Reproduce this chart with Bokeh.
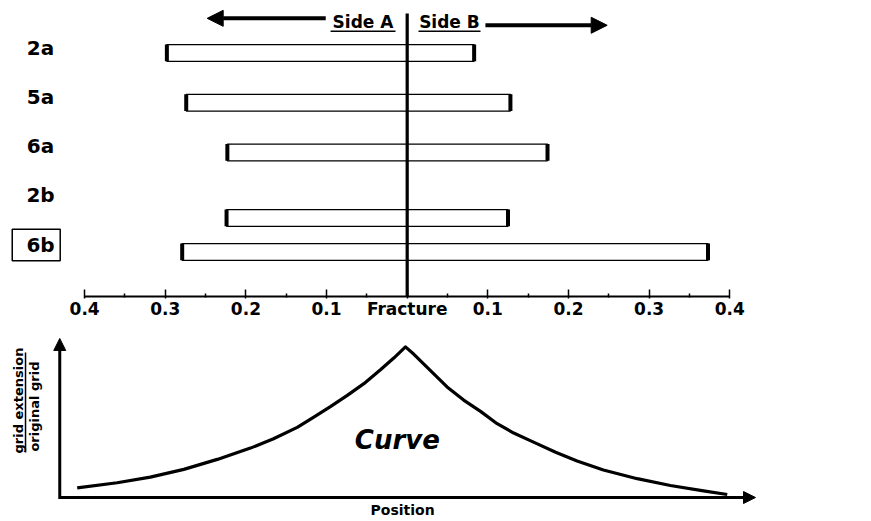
import math
from bokeh.plotting import figure
from bokeh.layouts import column
from bokeh.models import (Range1d, LinearAxis, FixedTicker, CustomJSTickFormatter,
                          Arrow, NormalHead, ColumnDataSource)
from bokeh.core.properties import value
from bokeh.embed import file_html
from bokeh.resources import INLINE

# ---------------- data ----------------
samples = ["2a", "5a", "6a", "2b", "6b"]
side_a = [0.298, 0.274, 0.223, 0.224, 0.279]   # extent into side A (fraction)
side_b = [0.083, 0.128, 0.174, 0.125, 0.373]   # extent into side B (fraction)
tick_values = [-0.4, -0.3, -0.2, -0.1, 0.0, 0.1, 0.2, 0.3, 0.4]
tick_labels = ["0.4", "0.3", "0.2", "0.1", "Fracture", "0.1", "0.2", "0.3", "0.4"]

position = [-1.010, -0.887, -0.785, -0.682, -0.579, -0.477, -0.406, -0.333, -0.282, -0.231,
            -0.179, -0.128, -0.077, -0.036, 0.0,
            0.026, 0.077, 0.128, 0.179, 0.231, 0.282, 0.333, 0.394, 0.462, 0.528,
            0.609, 0.713, 0.815, 0.917, 0.990]
extension_ratio = [0.064, 0.098, 0.135, 0.187, 0.253, 0.328, 0.390, 0.466, 0.534, 0.603,
                   0.678, 0.756, 0.848, 0.926, 1.0,
                   0.951, 0.842, 0.734, 0.647, 0.572, 0.490, 0.428, 0.368, 0.300, 0.243,
                   0.183, 0.125, 0.080, 0.044, 0.020]

# ---------------- layout helpers ----------------
FONT_NAME = "DejaVu Sans"
FONT = value(FONT_NAME)
label_row = [0, 1, 2, 3, 4]
bar_shift = [0.11, 0.12, 0.13, 0.46, 0.15]
bar_h = 0.34
minor_ticks = [-0.35, -0.25, -0.15, -0.05, 0.05, 0.15, 0.25, 0.35]

# ---------------- top panel ----------------
p1 = figure(width=855, height=321, x_range=Range1d(-0.5043, 0.5559),
            y_range=Range1d(5.055, -0.955), output_backend="svg", toolbar_location=None,
            x_axis_location=None, y_axis_location=None, title=None,
            min_border_left=0, min_border_right=0, min_border_top=0, min_border_bottom=22,
            outline_line_color=None, background_fill_color="white", border_fill_color="white")
p1.grid.visible = False

fmt = CustomJSTickFormatter(args=dict(vals=tick_values, labs=tick_labels), code="""
let best = 0;
for (let i = 0; i < vals.length; i++) {
  if (Math.abs(vals[i] - tick) < Math.abs(vals[best] - tick)) best = i;
}
return labs[best];
""")
ax = LinearAxis(bounds=(-0.4, 0.4), ticker=FixedTicker(ticks=tick_values, minor_ticks=minor_ticks),
                formatter=fmt, axis_line_width=2, axis_line_color="black",
                major_tick_in=7, major_tick_out=2, major_tick_line_width=1.5,
                minor_tick_in=3, minor_tick_out=1, minor_tick_line_width=1.5,
                major_label_text_font=FONT_NAME, major_label_text_font_style="bold",
                major_label_text_font_size="17px", major_label_standoff=0,
                major_label_text_color="black")
p1.add_layout(ax, "below")

ys = [r + s for r, s in zip(label_row, bar_shift)]
src = ColumnDataSource(dict(
    name=samples, row=label_row, y=ys,
    left=[-a for a in side_a], right=side_b,
    y0=[y - bar_h / 2 for y in ys], y1=[y + bar_h / 2 for y in ys]))

p1.hbar(y="y", left="left", right="right", height=bar_h, fill_color=None,
        line_color="black", line_width=1.3, source=src)
p1.segment(x0="left", y0="y0", x1="left", y1="y1", line_width=4, line_color="black", source=src)
p1.segment(x0="right", y0="y0", x1="right", y1="y1", line_width=4, line_color="black", source=src)

# fracture line
p1.segment(x0=[0], y0=[-0.693], x1=[0], y1=[5.055], line_width=3.2, line_color="black")

# row labels
p1.text(x=-0.4547, y="row", text="name", source=src, text_font=FONT, text_font_style="bold",
        text_font_size="20px", text_align="center", text_baseline="middle", text_color="black")
p1.rect(x=[-0.46], y=[4.01], width=[0.0595], height=[0.643], fill_color=None,
        line_color="black", line_width=1.5)

# side headers
p1.text(x=[-0.0548, 0.0524], y=[-0.513, -0.513], text=["Side A", "Side B"], text_font=FONT,
        text_font_style="bold", text_font_size="17px", text_align="center",
        text_baseline="middle", text_color="black")
p1.segment(x0=[-0.095, 0.014], y0=[-0.332, -0.332], x1=[-0.0145, 0.0909], y1=[-0.332, -0.332],
           line_width=1.5, line_color="black")
p1.add_layout(Arrow(end=NormalHead(size=16, fill_color="black", line_color="black"),
                    x_start=-0.101, y_start=-0.593, x_end=-0.248, y_end=-0.593,
                    line_width=4, line_color="black"))
p1.add_layout(Arrow(end=NormalHead(size=16, fill_color="black", line_color="black"),
                    x_start=0.097, y_start=-0.452, x_end=0.248, y_end=-0.452,
                    line_width=4, line_color="black"))

# ---------------- bottom panel ----------------
p2 = figure(width=855, height=197, x_range=Range1d(-1.246, 1.3846),
            y_range=Range1d(-0.1394, 1.1687), output_backend="svg", toolbar_location=None,
            x_axis_location=None, y_axis_location=None, title=None,
            min_border_left=0, min_border_right=0, min_border_top=0, min_border_bottom=0,
            outline_line_color=None, background_fill_color="white", border_fill_color="white")
p2.grid.visible = False

p2.line(position, extension_ratio, line_width=3.2, line_color="black", line_join="round")

p2.add_layout(Arrow(end=NormalHead(size=12, fill_color="black", line_color="black"),
                    x_start=-1.0637, y_start=-0.01, x_end=-1.0637, y_end=1.056,
                    line_width=3, line_color="black"))
p2.add_layout(Arrow(end=NormalHead(size=12, fill_color="black", line_color="black"),
                    x_start=-1.0637, y_start=0.0, x_end=1.077, y_end=0.0,
                    line_width=3.2, line_color="black"))

p2.text(x=[-0.025], y=[0.385], text=["Curve"], text_font=FONT, text_font_style="bold italic",
        text_font_size="26px", text_align="center", text_baseline="middle", text_color="black")
p2.text(x=[-0.009], y=[-0.080], text=["Position"], text_font=FONT, text_font_style="bold",
        text_font_size="14px", text_align="center", text_baseline="middle", text_color="black")

p2.text(x=[-1.192, -1.1415], y=[0.644, 0.604], text=["grid extension", "original grid"],
        angle=math.pi / 2, text_font=FONT, text_font_style="bold", text_font_size="13px",
        text_align="center", text_baseline="middle", text_color="black")
p2.segment(x0=[-1.169], y0=[0.299], x1=[-1.169], y1=[0.963], line_width=1.5, line_color="black")

layout = column(p1, p2)
open("out.html", "w").write(file_html(layout, INLINE))
